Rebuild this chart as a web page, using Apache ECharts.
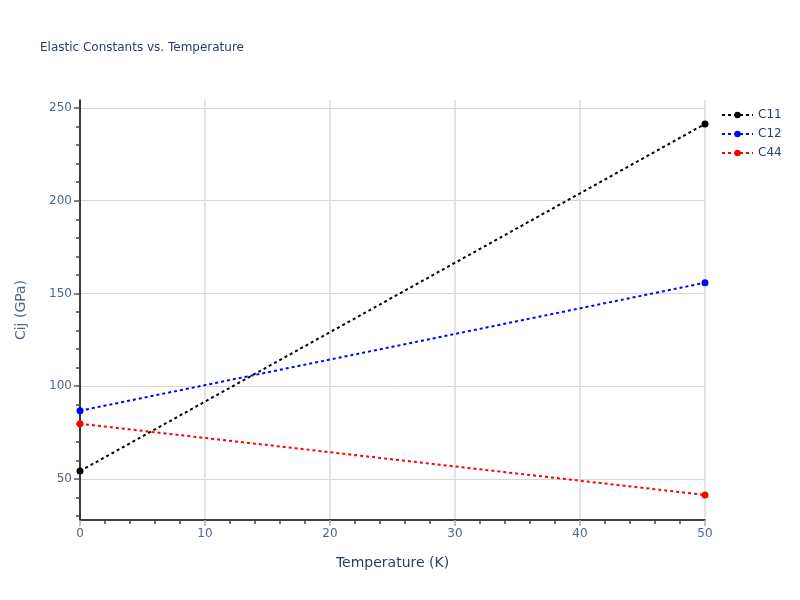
<!DOCTYPE html>
<html>
<head>
<meta charset="utf-8">
<script src="https://cdn.jsdelivr.net/npm/echarts@6/dist/echarts.min.js"></script>
<style>html,body{margin:0;padding:0;background:#fff}#c{width:800px;height:600px}</style>
</head>
<body>
<div id="c"></div>
<script>
var temperatures = [0, 50];
var c11 = [54.3, 241.4];
var c12 = [86.8, 155.8];
var c44 = [79.8, 41.4];
var seriesNames = ['C11', 'C12', 'C44'];
var seriesColors = ['#000000', '#0000ff', '#ff0000'];
var yMajorTicks = [50, 100, 150, 200, 250];
var yMinorTicks = [30, 40, 60, 70, 80, 90, 110, 120, 130, 140, 160, 170, 180, 190, 210, 220, 230, 240];
var yMin = 27.9, yMax = 254.3;

var font = '"DejaVu Sans", Verdana, sans-serif';
var txt = '#2a3f5f';
var lbl = '#506784';
function pairs(xs, ys) { return xs.map(function (x, i) { return [x, ys[i]]; }); }
var values = [c11, c12, c44];

var chart = echarts.init(document.getElementById('c'), null, { renderer: 'canvas' });
chart.setOption({
  animation: false,
  backgroundColor: '#fff',
  title: {
    text: 'Elastic Constants vs. Temperature',
    left: 35, top: 37,
    textStyle: { fontFamily: font, fontSize: 12, fontWeight: 'normal', color: txt }
  },
  legend: {
    orient: 'vertical',
    left: 716, top: 104,
    itemWidth: 31, itemHeight: 8, itemGap: 7,
    textStyle: { fontFamily: font, fontSize: 12, color: txt },
    data: seriesNames
  },
  grid: { left: 80, right: 95, top: 100, bottom: 80, containLabel: false },
  xAxis: {
    type: 'value', min: 0, max: 50, interval: 10,
    name: 'Temperature (K)', nameLocation: 'middle', nameGap: 36,
    nameTextStyle: { fontFamily: font, fontSize: 14, color: txt },
    axisLine: { show: true, onZero: false, lineStyle: { color: '#000', width: 1.5 } },
    axisTick: { show: true, inside: false, length: 6, lineStyle: { color: '#aaaaaa', width: 1.5 } },
    minorTick: { show: true, splitNumber: 5, length: 4, lineStyle: { color: '#444', width: 1.5 } },
    axisLabel: { fontFamily: font, fontSize: 12, color: lbl, margin: 8 },
    splitLine: { show: true, lineStyle: { color: '#dddddd', width: 1.5 } }
  },
  yAxis: [{
    type: 'value', min: yMin, max: yMax,
    name: 'Cij (GPa)', nameLocation: 'middle', nameGap: 52,
    nameTextStyle: { fontFamily: font, fontSize: 14, color: lbl },
    axisLine: { show: true, onZero: false, lineStyle: { color: '#000', width: 1.5 } },
    axisTick: { show: true, inside: false, length: 6, customValues: yMajorTicks, lineStyle: { color: '#555', width: 1.5 } },
    axisLabel: { fontFamily: font, fontSize: 12, color: lbl, margin: 8, customValues: yMajorTicks },
    splitLine: { show: true, lineStyle: { color: '#d6d6d6', width: 1 } }
  }, {
    type: 'value', min: yMin, max: yMax, position: 'left',
    axisLine: { show: false },
    axisTick: { show: true, inside: false, length: 4, customValues: yMinorTicks, lineStyle: { color: '#444', width: 1.5 } },
    axisLabel: { show: false, customValues: yMinorTicks },
    splitLine: { show: false }
  }],
  series: seriesNames.map(function (n, i) {
    return {
      name: n, type: 'line', yAxisIndex: 0,
      data: pairs(temperatures, values[i]),
      symbol: 'circle', symbolSize: 7,
      clip: false,
      itemStyle: { color: seriesColors[i] },
      lineStyle: { color: seriesColors[i], width: 2, type: [3, 3] },
      z: 3
    };
  })
});
</script>
</body>
</html>
